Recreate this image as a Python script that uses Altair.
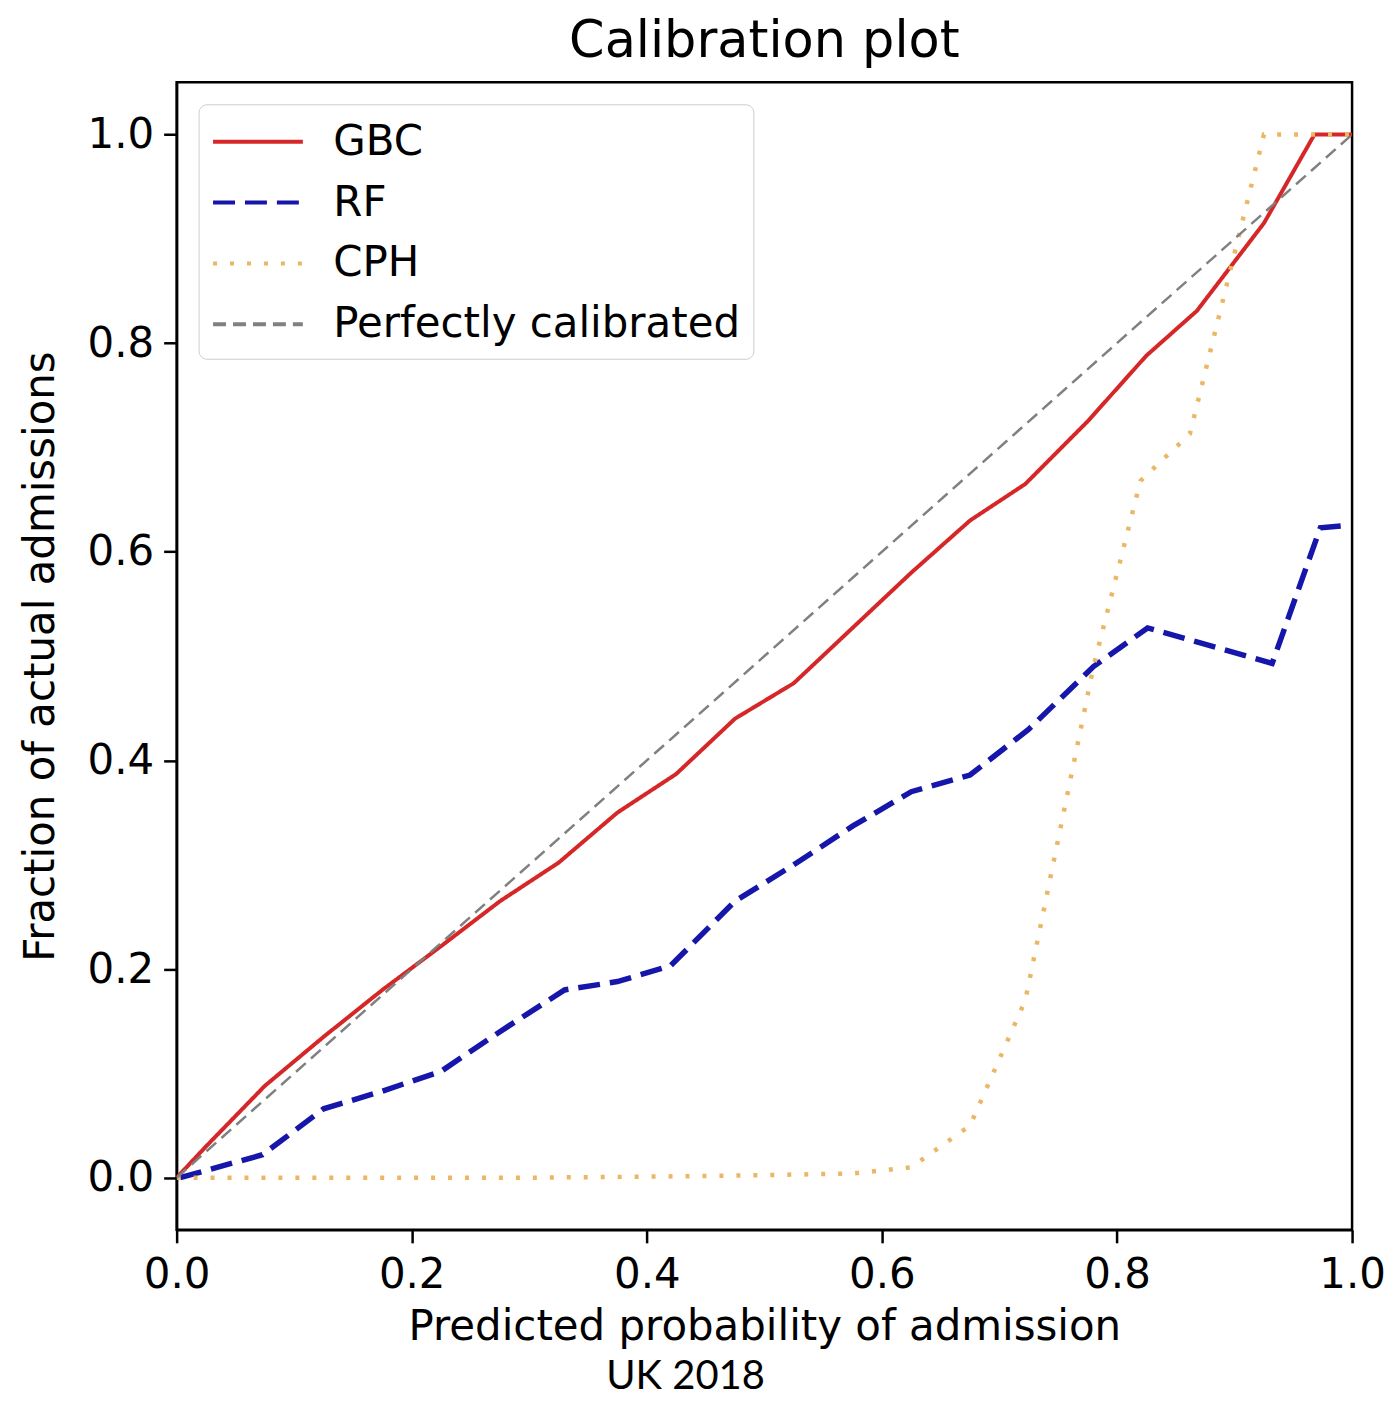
import altair as alt
import pandas as pd

# ---- data ----
gbc_x = [0.0, 0.025, 0.075, 0.125, 0.175, 0.225, 0.275, 0.325, 0.375, 0.425, 0.475,
         0.525, 0.575, 0.625, 0.675, 0.722, 0.775, 0.825, 0.868, 0.925, 0.968, 1.0]
gbc_y = [0.0, 0.03, 0.088, 0.135, 0.18, 0.222, 0.265, 0.302, 0.35, 0.387, 0.44,
         0.474, 0.527, 0.58, 0.63, 0.665, 0.725, 0.788, 0.831, 0.915, 1.0, 1.0]

rf_x = [0.003, 0.073, 0.125, 0.175, 0.225, 0.275, 0.33, 0.375, 0.42, 0.475, 0.525,
        0.575, 0.625, 0.675, 0.725, 0.78, 0.826, 0.932, 0.973, 0.993]
rf_y = [0.0, 0.022, 0.066, 0.083, 0.102, 0.14, 0.18, 0.188, 0.203, 0.265, 0.30,
        0.337, 0.37, 0.386, 0.43, 0.49, 0.527, 0.493, 0.623, 0.625]

cph_x = [0.0, 0.1, 0.2, 0.3, 0.4, 0.475, 0.575, 0.625, 0.675, 0.722, 0.78, 0.82,
         0.862, 0.925, 1.0]
cph_y = [0.0, 0.0, 0.0, 0.0, 0.001, 0.002, 0.004, 0.01, 0.05, 0.17, 0.49, 0.668,
         0.713, 1.0, 1.0]

perfect_x = [0.0, 1.0]
perfect_y = [0.0, 1.0]

series_names = ["GBC", "RF", "CPH", "Perfectly calibrated"]
series_colors = ["#d62728", "#1616aa", "#eab765", "#808080"]
series_dashes = [[1, 0], [22, 10], [4, 13], [13, 7]]
series_widths = [4, 5.5, 4.5, 2.5]

x_ticks = [0.0, 0.2, 0.4, 0.6, 0.8, 1.0]
y_ticks = [0.0, 0.2, 0.4, 0.6, 0.8, 1.0]

caption = ["UK 2018"]

# ---- build ----
def frame(name, xs, ys):
    return pd.DataFrame({"x": xs, "y": ys, "series": name, "i": list(range(len(xs)))})

frames = [
    frame("GBC", gbc_x, gbc_y),
    frame("RF", rf_x, rf_y),
    frame("CPH", cph_x, cph_y),
    frame("Perfectly calibrated", perfect_x, perfect_y),
]

legend = alt.Legend(
    title=None,
    orient="top-left",
    offset=22,
    padding=13,
    labelFontSize=42,
    labelFont="DejaVu Sans",
    labelColor="black",
    labelLimit=0,
    symbolType="M-2,0H2",
    symbolSize=2025,
    symbolStrokeWidth=4,
    symbolFillColor="transparent",
    symbolOffset=22,
    labelOffset=51,
    rowPadding=15,
    strokeColor="#cccccc",
    cornerRadius=8,
    fillColor="white",
)

xenc = alt.X("x:Q", scale=alt.Scale(domain=[0, 1], nice=False),
             axis=alt.Axis(values=x_ticks, format=".1f", title="Predicted probability of admission",
                           titlePadding=11, labelPadding=12, labelFlush=False))
yenc = alt.Y("y:Q", scale=alt.Scale(domain=[-0.05, 1.05], nice=False),
             axis=alt.Axis(values=y_ticks, format=".1f", title="Fraction of actual admissions",
                           titlePadding=25, labelPadding=10, labelFlush=False))
cenc = alt.Color("series:N", scale=alt.Scale(domain=series_names, range=series_colors), legend=legend)
denc = alt.StrokeDash("series:N", scale=alt.Scale(domain=series_names, range=series_dashes), legend=legend)

layers = []
for df, w in zip(frames, series_widths):
    layers.append(
        alt.Chart(df).mark_line(strokeWidth=w, strokeCap="butt", clip=True).encode(
            x=xenc, y=yenc, color=cenc, strokeDash=denc, order="i:Q"
        )
    )

cap = alt.Chart(pd.DataFrame({"t": caption})).mark_text(
    font="Lato", fontSize=40, align="center", baseline="middle", color="black"
).encode(text="t:N", x=alt.value(510), y=alt.value(1297))
layers.append(cap)

chart = alt.layer(*layers).properties(
    width=1178,
    height=1150,
    title=alt.TitleParams("Calibration plot", fontSize=51, font="DejaVu Sans",
                          fontWeight="normal", anchor="middle", offset=14, color="black"),
    autosize=alt.AutoSizeParams(type="none"),
    padding={"left": 169, "top": 73, "right": 33, "bottom": 172},
).configure_axis(
    domainColor="black", domainWidth=2.5, tickColor="black", tickWidth=2.5, tickSize=13,
    labelFontSize=42, titleFontSize=42, labelFont="DejaVu Sans", titleFont="DejaVu Sans",
    titleFontWeight="normal", labelColor="black", titleColor="black", grid=False,
).configure_view(stroke="black", strokeWidth=2.5)

chart.save("out.html", embed_options={"renderer": "svg", "actions": False})
